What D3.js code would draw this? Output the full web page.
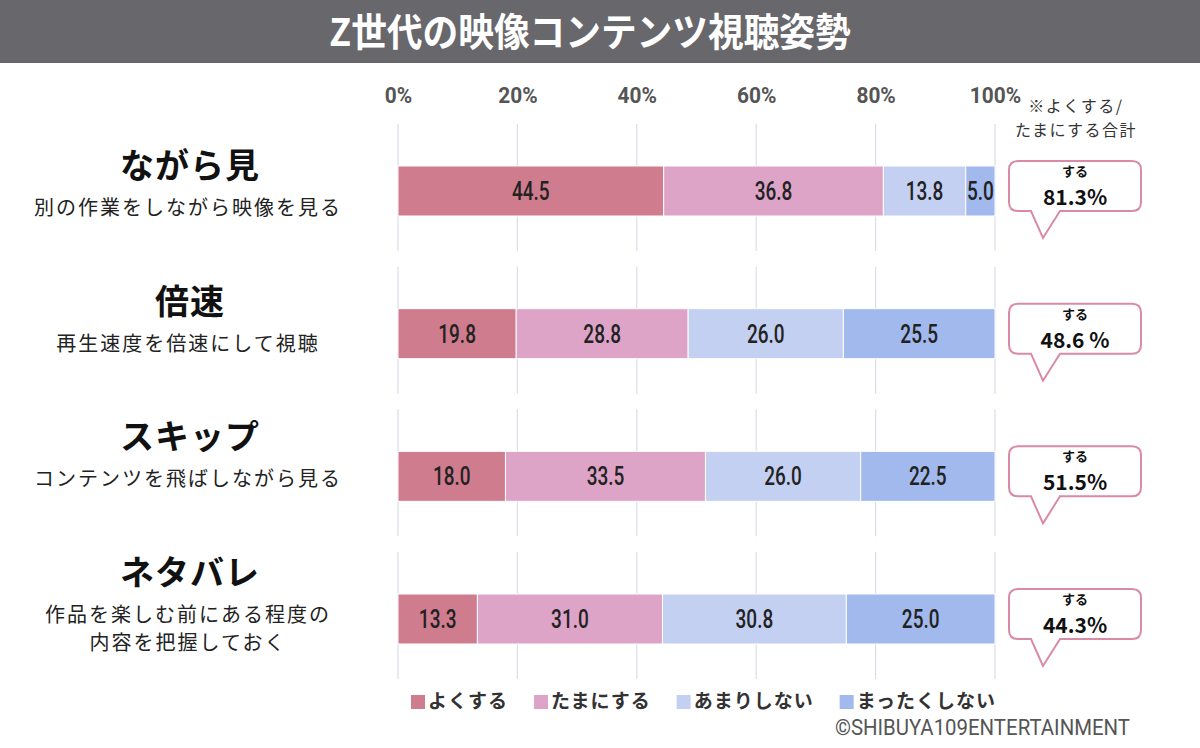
<!DOCTYPE html>
<html>
<head>
<meta charset="utf-8">
<script src="https://cdn.jsdelivr.net/npm/d3@7"></script>
<style>
  body { margin: 0; background: #fff; }
  svg { display: block; font-family: 'Noto Sans CJK JP', sans-serif; }
  .narrow { font-family: Roboto, 'Liberation Sans', sans-serif; }
</style>
</head>
<body>
<div id="graf"></div>
<script>
const anchoTotal = 1200
const altoTotal = 748

// datos
const categorias = ['ながら見', '倍速', 'スキップ', 'ネタバレ']
const subtitulos = [
  ['別の作業をしながら映像を見る'],
  ['再生速度を倍速にして視聴'],
  ['コンテンツを飛ばしながら見る'],
  ['作品を楽しむ前にある程度の', '内容を把握しておく'],
]
const series = ['よくする', 'たまにする', 'あまりしない', 'まったくしない']
const yokuSuru = [44.5, 19.8, 18.0, 13.3]
const tamaniSuru = [36.8, 28.8, 33.5, 31.0]
const amariShinai = [13.8, 26.0, 26.0, 30.8]
const mattakuShinai = [5.0, 25.5, 22.5, 25.0]
const totales = ['81.3%', '48.6 %', '51.5%', '44.3%']
const ticks = [0, 20, 40, 60, 80, 100]

const colores = ['#cf7c8e', '#dea4c8', '#c4d0f2', '#a1b9ec']

const data = categorias.map((c, i) => ({
  cat: c,
  'よくする': yokuSuru[i],
  'たまにする': tamaniSuru[i],
  'あまりしない': amariShinai[i],
  'まったくしない': mattakuShinai[i],
}))

const svg = d3.select('#graf')
  .append('svg')
  .attr('width', anchoTotal)
  .attr('height', altoTotal)

// titulo
svg.append('rect')
  .attr('x', 0).attr('y', 0)
  .attr('width', anchoTotal).attr('height', 63)
  .attr('fill', '#68676c')

svg.append('text')
  .attr('transform', 'translate(590, 46) scale(1.02, 1.1)')
  .attr('text-anchor', 'middle')
  .attr('fill', '#fff')
  .attr('font-size', 35)
  .attr('font-weight', 'bold')
  .text('Z世代の映像コンテンツ視聴姿勢')

const x = d3.scaleLinear().domain([0, 100]).range([398, 995]).clamp(true)
const y = d3.scalePoint().domain(categorias).range([191, 619])
const yLabel = d3.scalePoint().domain(categorias).range([178, 585])
const color = d3.scaleOrdinal().domain(series).range(colores)
const altoBarra = 50

// eje superior
const xAxisGroup = svg.append('g')
  .attr('transform', 'translate(0, 103)')
  .call(d3.axisTop(x).tickValues(ticks).tickSize(0).tickFormat(d => `${d}%`))
xAxisGroup.select('.domain').remove()
xAxisGroup.attr('font-family', null).attr('font-size', 22)
xAxisGroup.selectAll('text')
  .attr('class', 'narrow')
  .attr('font-size', 22)
  .attr('font-weight', 'bold')
  .attr('fill', '#555')
  .attr('dy', 0)
  .attr('y', 0)
  .attr('transform', 'scale(0.95, 1)')

// grilla por fila
categorias.forEach(c => {
  svg.append('g')
    .selectAll('line')
    .data(ticks)
    .join('line')
      .attr('x1', d => x(d)).attr('x2', d => x(d))
      .attr('y1', y(c) - 67).attr('y2', y(c) + 60)
      .attr('stroke', '#dcdcea')
      .attr('stroke-width', 1.2)
})

// barras apiladas
const stack = d3.stack().keys(series)(data)

const capas = svg.append('g')
  .selectAll('g')
  .data(stack)
  .join('g')
    .attr('fill', d => color(d.key))

capas.selectAll('rect')
  .data(d => d)
  .join('rect')
    .attr('x', d => x(d[0]))
    .attr('y', d => y(d.data.cat) - altoBarra / 2)
    .attr('width', d => x(d[1]) - x(d[0]))
    .attr('height', altoBarra)
    .attr('stroke', '#fff')
    .attr('stroke-width', 1)

capas.selectAll('text')
  .data(d => d)
  .join('text')
    .attr('class', 'narrow')
    .attr('transform', d => `translate(${(x(d[0]) + x(d[1])) / 2}, ${y(d.data.cat) + 9}) scale(0.76, 1)`)
    .attr('text-anchor', 'middle')
    .attr('font-size', 25)
    .attr('font-weight', 500)
    .attr('fill', '#222')
    .text(d => (d[1] - d[0]).toFixed(1))

// etiquetas de filas
const etiquetas = svg.append('g')
  .selectAll('g')
  .data(categorias)
  .join('g')

etiquetas.append('text')
  .attr('x', 190)
  .attr('y', d => yLabel(d))
  .attr('text-anchor', 'middle')
  .attr('font-size', 34)
  .attr('font-weight', 'bold')
  .attr('letter-spacing', 1)
  .attr('fill', '#111')
  .text(d => d)

etiquetas.each(function (d, i) {
  d3.select(this).selectAll('text.sub')
    .data(subtitulos[i])
    .join('text')
      .attr('class', 'sub')
      .attr('x', 188)
      .attr('y', (s, j) => yLabel(d) + 37 + j * 28)
      .attr('text-anchor', 'middle')
      .attr('font-size', 20)
      .attr('letter-spacing', 2)
      .attr('fill', '#222')
      .text(s => s)
})

// nota
svg.append('g')
  .selectAll('text')
  .data(['※よくする/', 'たまにする合計'])
  .join('text')
    .attr('x', 1076)
    .attr('y', (d, i) => 112 + i * 24)
    .attr('text-anchor', 'middle')
    .attr('font-size', 16)
    .attr('letter-spacing', 1.5)
    .attr('fill', '#333')
    .text(d => d)

// globos
const bx0 = 1009, bx1 = 1141, r = 9
const globo = cy => {
  const t = cy - 30, b = cy + 20
  const p = d3.path()
  p.moveTo(bx0 + r, t)
  p.lineTo(bx1 - r, t)
  p.quadraticCurveTo(bx1, t, bx1, t + r)
  p.lineTo(bx1, b - r)
  p.quadraticCurveTo(bx1, b, bx1 - r, b)
  p.lineTo(1060, b)
  p.lineTo(1043, cy + 47)
  p.lineTo(1031, b)
  p.lineTo(bx0 + r, b)
  p.quadraticCurveTo(bx0, b, bx0, b - r)
  p.lineTo(bx0, t + r)
  p.quadraticCurveTo(bx0, t, bx0 + r, t)
  p.closePath()
  return p.toString()
}

const globos = svg.append('g')
  .selectAll('g')
  .data(categorias)
  .join('g')

globos.append('path')
  .attr('d', d => globo(y(d)))
  .attr('fill', '#fff')
  .attr('stroke', '#d98aa6')
  .attr('stroke-width', 2)

globos.append('text')
  .attr('x', 1075)
  .attr('y', d => y(d) - 15)
  .attr('text-anchor', 'middle')
  .attr('font-size', 13)
  .attr('font-weight', 'bold')
  .attr('fill', '#111')
  .text('する')

globos.append('text')
  .attr('x', 1075)
  .attr('y', d => y(d) + 14)
  .attr('text-anchor', 'middle')
  .attr('font-size', 21)
  .attr('font-weight', 'bold')
  .attr('fill', '#111')
  .text((d, i) => totales[i])

// leyenda
const leyenda = svg.append('g').attr('transform', 'translate(411, 702)')
let lx = 0
series.forEach(s => {
  const item = leyenda.append('g').attr('transform', `translate(${lx}, 0)`)
  item.append('rect')
    .attr('x', 0).attr('y', -7)
    .attr('width', 14).attr('height', 14)
    .attr('fill', color(s))
  const t = item.append('text')
    .attr('x', 17).attr('y', 6)
    .attr('font-size', 19)
    .attr('font-weight', 'bold')
    .attr('letter-spacing', 1)
    .attr('fill', '#333')
    .text(s)
  lx += 17 + t.node().getComputedTextLength() + 26
})

svg.append('text')
  .attr('class', 'narrow')
  .attr('transform', 'translate(1130, 735) scale(1.02, 1.08)')
  .attr('text-anchor', 'end')
  .attr('font-size', 20)
  .attr('fill', '#555')
  .text('©SHIBUYA109ENTERTAINMENT')
</script>
</body>
</html>
